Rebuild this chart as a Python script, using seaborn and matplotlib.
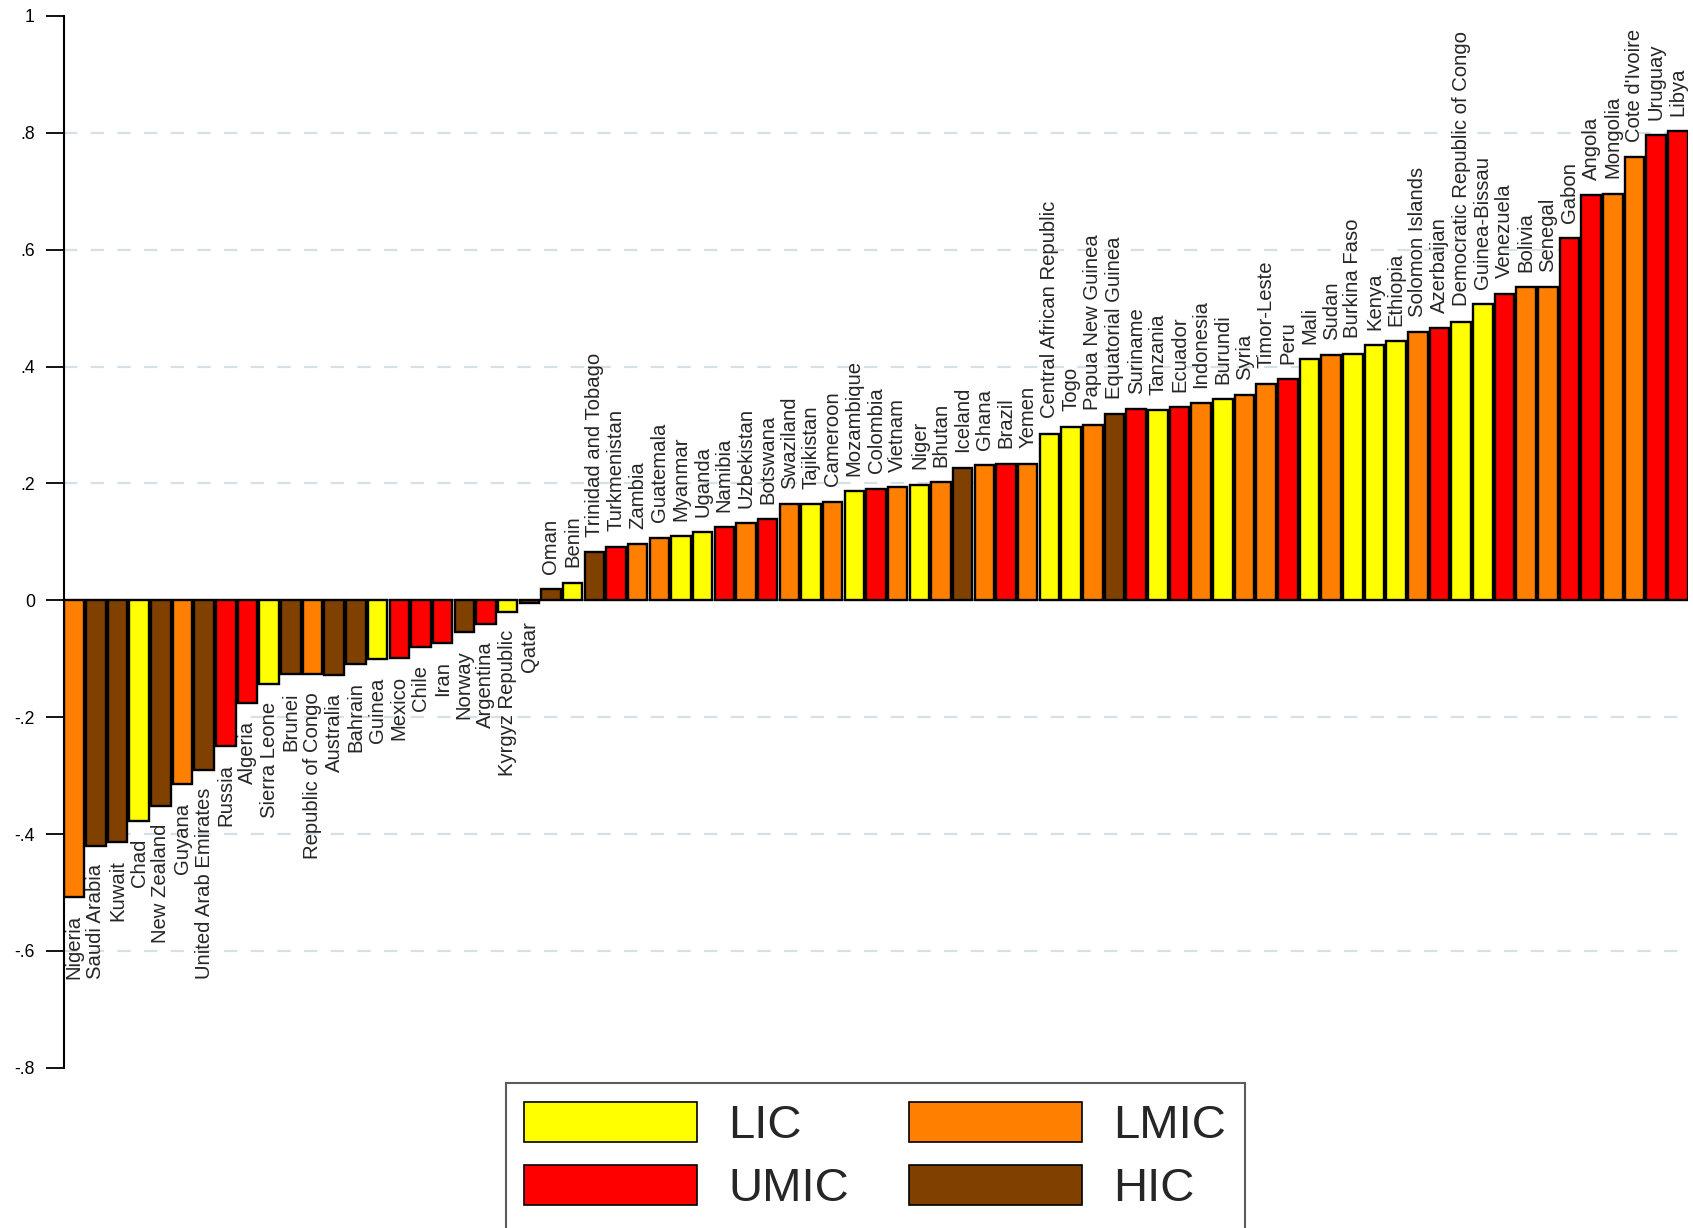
import pandas as pd
import matplotlib.pyplot as plt
import seaborn as sns
from matplotlib.patches import Patch

# Data (sorted ascending)
countries = [
    "Nigeria", "Saudi Arabia", "Kuwait", "Chad", "New Zealand", "Guyana",
    "United Arab Emirates", "Russia", "Algeria", "Sierra Leone", "Brunei",
    "Republic of Congo", "Australia", "Bahrain", "Guinea", "Mexico", "Chile",
    "Iran", "Norway", "Argentina", "Kyrgyz Republic", "Qatar",
    "Oman", "Benin", "Trinidad and Tobago", "Turkmenistan", "Zambia",
    "Guatemala", "Myanmar", "Uganda", "Namibia", "Uzbekistan", "Botswana",
    "Swaziland", "Tajikistan", "Cameroon", "Mozambique", "Colombia",
    "Vietnam", "Niger", "Bhutan", "Iceland", "Ghana", "Brazil", "Yemen",
    "Central African Republic", "Togo", "Papua New Guinea",
    "Equatorial Guinea", "Suriname", "Tanzania", "Ecuador", "Indonesia",
    "Burundi", "Syria", "Timor-Leste", "Peru", "Mali", "Sudan",
    "Burkina Faso", "Kenya", "Ethiopia", "Solomon Islands", "Azerbaijan",
    "Democratic Republic of Congo", "Guinea-Bissau", "Venezuela", "Bolivia",
    "Senegal", "Gabon", "Angola", "Mongolia", "Cote d'Ivoire", "Uruguay",
    "Libya",
]
groups = [
    "LMIC", "HIC", "HIC", "LIC", "HIC", "LMIC",
    "HIC", "UMIC", "UMIC", "LIC", "HIC",
    "LMIC", "HIC", "HIC", "LIC", "UMIC", "UMIC",
    "UMIC", "HIC", "UMIC", "LIC", "HIC",
    "HIC", "LIC", "HIC", "UMIC", "LMIC",
    "LMIC", "LIC", "LIC", "UMIC", "LMIC", "UMIC",
    "LMIC", "LIC", "LMIC", "LIC", "UMIC",
    "LMIC", "LIC", "LMIC", "HIC", "LMIC", "UMIC", "LMIC",
    "LIC", "LIC", "LMIC",
    "HIC", "UMIC", "LIC", "UMIC", "LMIC",
    "LIC", "LMIC", "LMIC", "UMIC", "LIC", "LMIC",
    "LIC", "LIC", "LIC", "LMIC", "UMIC",
    "LIC", "LIC", "UMIC", "LMIC",
    "LMIC", "UMIC", "UMIC", "LMIC", "LMIC", "UMIC",
    "UMIC",
]
values = [
    -0.508, -0.421, -0.414, -0.377, -0.352, -0.315,
    -0.290, -0.249, -0.176, -0.143, -0.127,
    -0.126, -0.128, -0.109, -0.101, -0.098, -0.080,
    -0.073, -0.054, -0.040, -0.020, -0.004,
    0.019, 0.030, 0.082, 0.092, 0.096,
    0.107, 0.110, 0.117, 0.125, 0.132, 0.139,
    0.165, 0.164, 0.169, 0.187, 0.191,
    0.194, 0.198, 0.202, 0.227, 0.231, 0.234, 0.234,
    0.285, 0.297, 0.300,
    0.319, 0.327, 0.326, 0.330, 0.337,
    0.344, 0.351, 0.371, 0.378, 0.413, 0.419,
    0.422, 0.437, 0.443, 0.459, 0.466,
    0.477, 0.507, 0.525, 0.536,
    0.536, 0.620, 0.693, 0.696, 0.758, 0.796,
    0.803,
]
yticks = [-0.8, -0.6, -0.4, -0.2, 0, 0.2, 0.4, 0.6, 0.8, 1]
ytick_labels = ["-.8", "-.6", "-.4", "-.2", "0", ".2", ".4", ".6", ".8", "1"]
legend_order = ["LIC", "UMIC", "LMIC", "HIC"]
palette = {"LIC": "#FFFF00", "LMIC": "#FF8000", "UMIC": "#FF0000", "HIC": "#804000"}

df = pd.DataFrame({"country": countries, "group": groups, "value": values})

sns.set_style("white")
plt.rcParams["font.family"] = ["Liberation Sans", "DejaVu Sans"]

fig = plt.figure(figsize=(16.93, 12.28), dpi=100)
ax = fig.add_axes([0.0378, 0.1305, 0.9593, 0.8565])

sns.barplot(data=df, x="country", y="value", hue="group", order=countries,
            palette=palette, dodge=False, saturation=1, width=0.9,
            edgecolor="black", linewidth=1.7, legend=False, ax=ax)

# gridlines (not at the axis limits)
for y in yticks[1:-1]:
    if y != 0:
        ax.axhline(y, color="#D5E1E6", lw=1.6, ls=(0, (6, 6)), zorder=0)
ax.axhline(0, color="#888888", lw=1.2, zorder=0)

# country labels at bar ends
for i, row in df.iterrows():
    if row["value"] >= 0:
        ax.annotate(row["country"], (i, row["value"]), xytext=(0, 11),
                    textcoords="offset points", rotation=90, ha="center",
                    va="bottom", fontsize=14.6)
    else:
        ax.annotate(row["country"], (i, row["value"]), xytext=(0, -13),
                    textcoords="offset points", rotation=90, ha="center",
                    va="top", fontsize=14.6)

ax.set_xlim(-0.47, len(countries) - 0.53)
ax.set_ylim(-0.8, 1)
ax.set_yticks(yticks)
ax.set_yticklabels(ytick_labels, fontsize=12.7)
ax.set_xticks([])
ax.set_xlabel("")
ax.set_ylabel("")
ax.tick_params(axis="y", direction="out", length=13, width=1.3, pad=8,
               left=True, colors="black")
for s in ["top", "right", "bottom"]:
    ax.spines[s].set_visible(False)
ax.spines["left"].set_linewidth(1.5)
ax.spines["left"].set_color("black")

handles = [Patch(facecolor=palette[g], edgecolor="black", linewidth=1.2, label=g)
           for g in legend_order]
leg = fig.legend(handles=handles, loc="upper center", bbox_to_anchor=(0.517, 0.1181),
                 ncol=2, fontsize=34, frameon=True, fancybox=False,
                 borderaxespad=0, handlelength=3.65, handleheight=0.93,
                 handletextpad=0.67, columnspacing=1.27, labelspacing=0.36,
                 borderpad=0.4)
leg.get_frame().set_edgecolor("#333333")
leg.get_frame().set_linewidth(1.5)

fig.savefig("out.png", dpi=100)
